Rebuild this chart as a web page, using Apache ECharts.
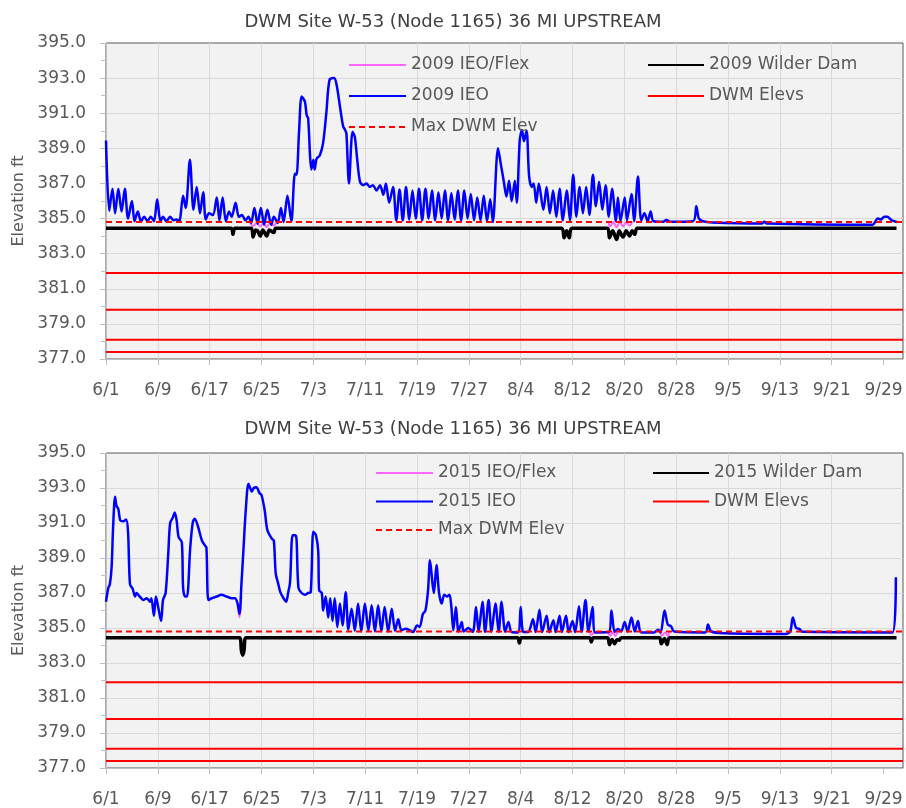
<!DOCTYPE html>
<html>
<head>
<meta charset="utf-8">
<script src="https://cdn.jsdelivr.net/npm/echarts@6/dist/echarts.min.js"></script>
<style>
  html, body { margin: 0; padding: 0; background: #ffffff; }
  #chart { width: 906px; height: 808px; }
</style>
</head>
<body>
<div id="chart"></div>
<script>
// x values are days counted from June 1; one label every 8 days
const xTickLabels = ['6/1', '6/9', '6/17', '6/25', '7/3', '7/11', '7/19', '7/27',
  '8/4', '8/12', '8/20', '8/28', '9/5', '9/13', '9/21', '9/29'];
const dayMax = 123;

// Elevation axis (ft)
const yMin = 377;
const yMax = 395;
const yStep = 2;

// Reference elevations
const dwmElevs = [381.9, 379.8, 378.1, 377.4];
const maxDwmElev = 384.8;

const chartTitle = 'DWM Site W-53 (Node 1165) 36 MI UPSTREAM';

// 2009 season, [day, elevation ft]
const ieo2009 = [
  [0, 389.45], [0.5, 385.45], [1.0, 386.7], [1.4, 385.3], [1.9, 386.7], [2.4, 385.4], [2.9, 386.7],
  [3.4, 385.0], [4.0, 386.0], [4.4, 384.85], [4.9, 385.4], [5.4, 384.85], [5.9, 385.1], [6.4, 384.85],
  [6.9, 385.1], [7.4, 384.85], [7.9, 386.1], [8.4, 384.85], [8.8, 385.1], [9.3, 384.85], [9.9, 385.1],
  [10.4, 384.9], [10.9, 384.95], [11.3, 384.85], [11.9, 386.3], [12.3, 385.6], [12.95, 388.35],
  [13.5, 385.5], [14.0, 386.8], [14.5, 385.3], [15.0, 386.5], [15.4, 384.95], [15.9, 385.3],
  [16.5, 385.2], [17.1, 386.2], [17.5, 384.9], [18.0, 386.2], [18.5, 384.85], [19.0, 385.4],
  [19.4, 385.1], [20.0, 385.9], [20.5, 385.1], [21.0, 385.2], [21.5, 384.9], [22.0, 385.1],
  [22.4, 384.75], [22.9, 385.6], [23.4, 384.7], [23.9, 385.6], [24.4, 384.65], [24.9, 385.5],
  [25.5, 384.65], [25.9, 385.1], [26.5, 384.75], [27.0, 385.6], [27.4, 384.8], [28.0, 386.3],
  [28.6, 384.83], [29.15, 387.55], [29.4, 387.5], [29.8, 390.0], [30.2, 391.95], [30.7, 391.65],
  [30.96, 390.9], [31.2, 390.7], [31.5, 388.5], [31.7, 387.8], [32.0, 388.35], [32.2, 387.8],
  [32.5, 388.4], [33.0, 388.6], [33.5, 389.3], [34.0, 391.0], [34.5, 392.9], [35.2, 393.0],
  [35.6, 392.6], [36.1, 391.4], [36.6, 390.25], [36.9, 390.05], [37.1, 389.85], [37.5, 387.0],
  [38.05, 389.95], [38.4, 389.65], [38.8, 388.25], [39.2, 387.1], [39.7, 386.9], [40.2, 387.0],
  [40.7, 386.8], [41.2, 386.9], [41.75, 386.6], [42.3, 386.9], [42.8, 386.35], [43.2, 387.0],
  [43.7, 385.9],
  [44.3, 386.8], [44.8, 384.9], [45.3, 386.65], [45.8, 384.9], [46.3, 386.8], [46.8, 384.95],
  [47.3, 386.6], [47.8, 385.0], [48.3, 386.7], [48.8, 384.9], [49.3, 386.7], [49.8, 385.0],
  [50.3, 386.6], [50.8, 384.9], [51.3, 386.5], [51.8, 385.0], [52.3, 386.6], [52.8, 384.9],
  [53.3, 386.45], [53.8, 384.95], [54.3, 386.6], [54.8, 384.9], [55.3, 386.6], [55.8, 385.0],
  [56.3, 386.4], [56.8, 384.9], [57.3, 386.2], [57.8, 384.9], [58.3, 386.3], [58.8, 384.85],
  [59.3, 386.1], [59.7, 384.8],
  [60.5, 389.0], [61.0, 387.95], [61.4, 387.1], [61.8, 386.25], [62.2, 387.15], [62.6, 386.0],
  [63.1, 387.15], [63.4, 385.9], [63.85, 389.45], [64.2, 390.05], [64.5, 389.4], [64.9, 390.0],
  [65.3, 387.4], [65.7, 386.8], [66.0, 387.0], [66.4, 385.9], [66.8, 387.0], [67.5, 385.5],
  [68.0, 386.8], [68.5, 385.3], [69.0, 386.6], [69.5, 385.1], [70.0, 386.7], [70.5, 384.9],
  [71.1, 386.6], [71.6, 384.9], [72.1, 387.5], [72.6, 385.1], [73.1, 386.8], [73.6, 385.3],
  [74.1, 386.8], [74.6, 385.2], [75.15, 387.5], [75.6, 385.7], [76.1, 387.1], [76.6, 385.5],
  [77.1, 386.9], [77.6, 385.1], [78.1, 386.7], [78.7, 384.85], [79.0, 386.2], [79.4, 384.85],
  [80.05, 386.2], [80.4, 384.9], [81.1, 386.4], [81.5, 384.85], [82.1, 387.4], [82.6, 384.9],
  [83.1, 385.3], [83.6, 384.85], [84.05, 385.4], [84.5, 384.85], [86.0, 384.82], [86.5, 384.92],
  [87.0, 384.82], [90.6, 384.85], [91.1, 385.7], [91.5, 385.0], [92.1, 384.85], [93.6, 384.78],
  [101.2, 384.72], [101.6, 384.82], [102.0, 384.72], [118.3, 384.65], [119.1, 385.0],
  [119.6, 384.95], [120.1, 385.1], [120.6, 385.1], [121.1, 384.95], [121.6, 384.85], [122.1, 384.8]
];

const flex2009 = [
  [22.2, 384.8], [22.7, 384.55], [23.2, 384.75], [23.8, 384.55], [24.3, 384.75], [24.8, 384.5],
  [25.3, 384.75], [25.9, 384.6], [26.3, 384.8], [26.4, '-'],
  [77.5, 384.85], [77.8, 384.55], [78.3, 384.8], [78.8, 384.5], [79.3, 384.8], [79.8, 384.55],
  [80.3, 384.8], [80.8, 384.6], [81.2, 384.8]
];

const wilder2009 = [
  [0, 384.45], [19.3, 384.45], [19.6, 384.1], [19.9, 384.45], [22.4, 384.45], [22.7, 383.95],
  [23.1, 384.35], [23.4, 384.3], [23.8, 384.0], [24.2, 384.35], [24.8, 384.0], [25.2, 384.35],
  [25.9, 384.2], [26.2, 384.45], [70.3, 384.45], [70.7, 383.9], [71.1, 384.3], [71.5, 383.9],
  [71.9, 384.45], [77.4, 384.45], [77.7, 383.9], [78.2, 384.3], [78.8, 383.8], [79.2, 384.3],
  [79.8, 383.95], [80.3, 384.3], [80.8, 384.0], [81.2, 384.3], [81.6, 384.1], [82.0, 384.45],
  [122.0, 384.45]
];

// 2015 season, [day, elevation ft]
const ieo2015 = [
  [0, 386.5], [0.36, 387.3], [0.6, 387.5], [0.87, 388.5], [1.1, 390.8], [1.4, 392.5], [1.6, 392.0],
  [1.9, 391.8], [2.2, 391.15], [2.7, 391.1], [3.1, 391.2], [3.4, 390.5], [3.7, 387.5], [4.1, 387.25],
  [4.5, 386.8], [4.7, 387.0], [5.2, 386.8], [5.8, 386.6], [6.3, 386.7], [6.8, 386.5], [7.0, 386.7],
  [7.4, 385.7], [7.7, 386.8], [8.1, 386.1], [8.5, 385.4], [8.8, 386.6], [9.2, 387.0], [9.6, 389.2],
  [9.9, 391.0], [10.3, 391.3], [10.6, 391.6], [10.9, 391.15], [11.2, 390.2], [11.7, 389.9],
  [11.9, 387.3], [12.2, 386.8], [12.5, 386.8], [13.0, 389.6], [13.4, 391.05], [13.7, 391.25],
  [14.2, 390.8], [14.8, 390.0], [15.3, 389.7], [15.5, 389.6], [15.8, 386.6], [16.3, 386.7],
  [17.1, 386.8], [17.8, 386.9], [18.6, 386.8], [19.4, 386.7], [19.9, 386.7], [20.3, 386.4],
  [20.6, 385.8], [20.9, 387.5], [21.2, 389.4], [21.6, 391.9], [22.0, 393.25], [22.5, 392.8],
  [22.8, 393.0], [23.2, 393.05], [23.7, 392.7], [24.0, 392.6], [24.5, 391.7], [24.9, 390.6],
  [25.6, 390.1], [25.9, 390.0], [26.2, 388.1], [26.6, 387.5], [26.9, 387.05], [27.4, 386.7],
  [27.8, 386.5], [28.1, 387.0], [28.4, 387.6], [28.8, 390.3], [29.2, 390.3], [29.4, 390.1],
  [29.7, 387.3], [30.2, 387.0], [30.7, 386.9], [31.2, 387.0], [31.6, 387.05], [32.0, 390.5],
  [32.4, 390.3], [32.75, 389.4], [32.9, 387.15], [33.3, 387.0], [33.5, 386.0], [33.9, 386.8],
  [34.3, 385.6], [34.6, 386.7], [34.96, 385.4], [35.3, 386.7], [35.7, 385.06], [36.1, 386.4],
  [36.5, 385.15], [37.0, 387.05], [37.4, 384.9], [37.9, 386.1], [38.4, 384.85], [38.9, 386.4],
  [39.4, 384.8], [39.95, 386.4], [40.5, 384.85], [41.0, 386.3], [41.5, 384.8], [42.0, 386.3],
  [42.5, 384.8], [43.0, 386.2], [43.55, 384.8], [44.1, 386.1], [44.6, 384.85], [45.1, 385.5],
  [45.6, 384.87], [46.27, 384.96], [46.9, 384.87], [47.4, 384.77], [48.0, 385.15], [48.4, 385.06],
  [48.9, 385.8], [49.3, 386.0], [49.7, 387.15], [50.0, 388.87], [50.4, 387.5], [50.6, 387.0],
  [51.0, 388.6], [51.4, 387.0], [51.8, 386.4], [52.2, 386.9], [52.6, 386.8], [53.0, 386.9],
  [53.3, 386.2], [53.6, 384.87], [54.0, 386.2], [54.4, 384.8], [54.9, 385.35], [55.2, 384.8],
  [55.9, 385.0], [56.6, 384.78], [57.1, 386.2], [57.5, 384.78], [58.1, 386.5], [58.5, 384.78],
  [59.05, 386.6], [59.5, 384.78], [60.1, 386.4], [60.6, 384.78], [61.05, 386.5], [61.6, 384.78],
  [62.1, 385.35], [62.6, 384.77], [63.6, 384.75], [64.0, 386.2], [64.4, 384.77], [65.15, 384.77],
  [65.9, 385.5], [66.3, 384.77], [66.9, 386.05], [67.3, 384.77], [68.0, 385.7], [68.4, 384.77],
  [69.05, 385.45], [69.4, 384.77], [70.0, 385.7], [70.35, 384.77], [71.0, 385.7], [71.4, 384.77],
  [72.0, 385.4], [72.4, 384.77], [73.0, 386.25], [73.4, 384.77], [74.0, 386.6], [74.45, 384.8],
  [75.1, 386.2], [75.5, 384.75], [77.6, 384.77], [78.0, 386.0], [78.5, 384.77], [79.0, 384.95],
  [79.5, 384.8], [80.05, 385.35], [80.5, 384.8], [81.1, 385.6], [81.6, 384.8], [82.1, 385.4],
  [82.6, 384.75], [84.6, 384.75], [85.2, 384.9], [85.6, 384.75], [86.2, 386.0], [86.7, 385.2],
  [87.2, 385.1], [87.7, 384.8], [92.5, 384.75], [92.9, 385.2], [93.4, 384.8], [95.7, 384.7],
  [104.9, 384.66], [105.6, 384.8], [106.0, 385.6], [106.5, 385.0], [107.0, 384.95], [107.5, 384.78],
  [121.4, 384.75], [121.9, 387.9]
];

const flex2015 = [
  [20.3, 386.3], [20.6, 385.6], [20.9, 386.8], [21.0, '-'],
  [74.6, 384.8], [74.9, 384.6], [75.3, 384.75], [75.4, '-'],
  [77.5, 384.8], [77.8, 384.55], [78.2, 384.75], [78.6, 384.55], [79.0, 384.8], [79.1, '-'],
  [85.5, 384.8], [85.8, 384.55], [86.3, 384.75], [86.7, 384.55], [87.0, 384.8]
];

const wilder2015 = [
  [0, 384.45], [20.6, 384.45], [20.9, 383.7], [21.1, 383.45], [21.3, 383.7], [21.6, 384.45],
  [63.5, 384.45], [63.8, 384.15], [64.1, 384.45], [74.6, 384.45], [74.9, 384.2], [75.2, 384.45],
  [77.4, 384.45], [77.7, 384.05], [78.1, 384.35], [78.5, 384.1], [78.9, 384.35], [79.2, 384.3],
  [79.5, 384.45], [85.4, 384.45], [85.7, 384.1], [86.2, 384.4], [86.6, 384.05], [87.0, 384.45],
  [122.0, 384.45]
];

// ---------- layout and styling ----------
const FONT = 'DejaVu Sans';
const TEXT_GREY = '#595959';
const AXIS_GREY = '#bfbfbf';
const GRID_GREY = '#d9d9d9';
const plotLeft = 106, plotWidth = 797, plotHeight = 316;
const plotTops = [43, 453];
const titleTops = [8, 415];

const tickDays = xTickLabels.map((_, i) => i * 8);

const panels = [
  { year: 2009, ieo: ieo2009, flex: flex2009, wilder: wilder2009,
    legendTop: 55, legendGap: 11, legendLeft: [348, 647] },
  { year: 2015, ieo: ieo2015, flex: flex2015, wilder: wilder2015,
    legendTop: 463, legendGap: 8.5, legendLeft: [375, 652] }
];

const title = [], grid = [], xAxis = [], yAxis = [], series = [], legend = [];

panels.forEach((p, i) => {
  const top = plotTops[i];
  title.push({
    text: chartTitle, left: 'center', top: titleTops[i],
    textStyle: { fontFamily: FONT, fontSize: 18, fontWeight: 'normal', color: '#404040' }
  });
  grid.push({
    left: plotLeft, top: top, width: plotWidth, height: plotHeight,
    show: true, backgroundColor: '#f2f2f2', borderColor: '#595959', borderWidth: 1
  });
  xAxis.push({
    type: 'value', gridIndex: i, min: 0, max: dayMax, interval: 8,
    axisLine: { show: true, onZero: false, lineStyle: { color: AXIS_GREY, width: 1 } },
    axisTick: { show: true, length: 6, customValues: tickDays, lineStyle: { color: AXIS_GREY } },
    axisLabel: {
      customValues: tickDays, margin: 23,
      color: TEXT_GREY, fontFamily: FONT, fontSize: 17,
      formatter: v => (v % 8 === 0 && v / 8 < xTickLabels.length) ? xTickLabels[v / 8] : ''
    },
    splitLine: { show: true, showMaxLine: false, lineStyle: { color: GRID_GREY, width: 1 } }
  });
  yAxis.push({
    type: 'value', gridIndex: i, min: yMin, max: yMax, interval: yStep,
    name: 'Elevation ft', nameLocation: 'middle', nameGap: 77,
    nameTextStyle: { color: TEXT_GREY, fontFamily: FONT, fontSize: 16 },
    axisLine: { show: true, lineStyle: { color: AXIS_GREY, width: 1 } },
    axisTick: { show: true, length: 6, lineStyle: { color: AXIS_GREY } },
    minorTick: { show: true, splitNumber: 2, length: 5, lineStyle: { color: AXIS_GREY } },
    axisLabel: { margin: 20, color: TEXT_GREY, fontFamily: FONT, fontSize: 17,
      formatter: v => v.toFixed(1) },
    splitLine: { show: true, showMaxLine: false, lineStyle: { color: GRID_GREY, width: 1 } }
  });

  const common = { type: 'line', xAxisIndex: i, yAxisIndex: i, symbol: 'none',
    showSymbol: false, silent: true, animation: false };

  dwmElevs.forEach(v => {
    series.push(Object.assign({}, common, {
      name: 'DWM Elevs', data: [[0, v], [dayMax, v]],
      lineStyle: { color: '#ff0000', width: 2 }, itemStyle: { color: '#ff0000' }
    }));
  });
  series.push(Object.assign({}, common, {
    name: p.year + ' IEO/Flex', data: p.flex, smooth: 0.3, connectNulls: false,
    lineStyle: { color: '#ff66ff', width: 2 }, itemStyle: { color: '#ff66ff' }
  }));
  series.push(Object.assign({}, common, {
    name: p.year + ' IEO', data: p.ieo, smooth: 0.3,
    lineStyle: { color: '#0000ff', width: 2.5 }, itemStyle: { color: '#0000ff' }
  }));
  series.push(Object.assign({}, common, {
    name: p.year + ' Wilder Dam', data: p.wilder, smooth: 0.3,
    lineStyle: { color: '#000000', width: 3.5 }, itemStyle: { color: '#000000' }
  }));
  series.push(Object.assign({}, common, {
    name: 'Max DWM Elev', data: [[0, maxDwmElev], [dayMax, maxDwmElev]],
    lineStyle: { color: '#ff0000', width: 2, type: [6, 4] }, itemStyle: { color: '#ff0000' }
  }));

  const legendText = { color: TEXT_GREY, fontFamily: FONT, fontSize: 17, lineHeight: 20 };
  const legendCommon = {
    orient: 'vertical', top: p.legendTop, padding: 0,
    itemHeight: 14, itemGap: p.legendGap, selectedMode: false,
    itemStyle: { opacity: 0 },
    textStyle: legendText
  };
  legend.push(Object.assign({}, legendCommon, {
    left: p.legendLeft[0], itemWidth: 57,
    data: [p.year + ' IEO/Flex', p.year + ' IEO', 'Max DWM Elev']
  }));
  legend.push(Object.assign({}, legendCommon, {
    left: p.legendLeft[1], itemWidth: 56,
    data: [p.year + ' Wilder Dam', 'DWM Elevs']
  }));
});

const chart = echarts.init(document.getElementById('chart'), null, { renderer: 'canvas' });
chart.setOption({
  backgroundColor: '#ffffff',
  animation: false,
  title, grid, xAxis, yAxis, legend, series
});
</script>
</body>
</html>
